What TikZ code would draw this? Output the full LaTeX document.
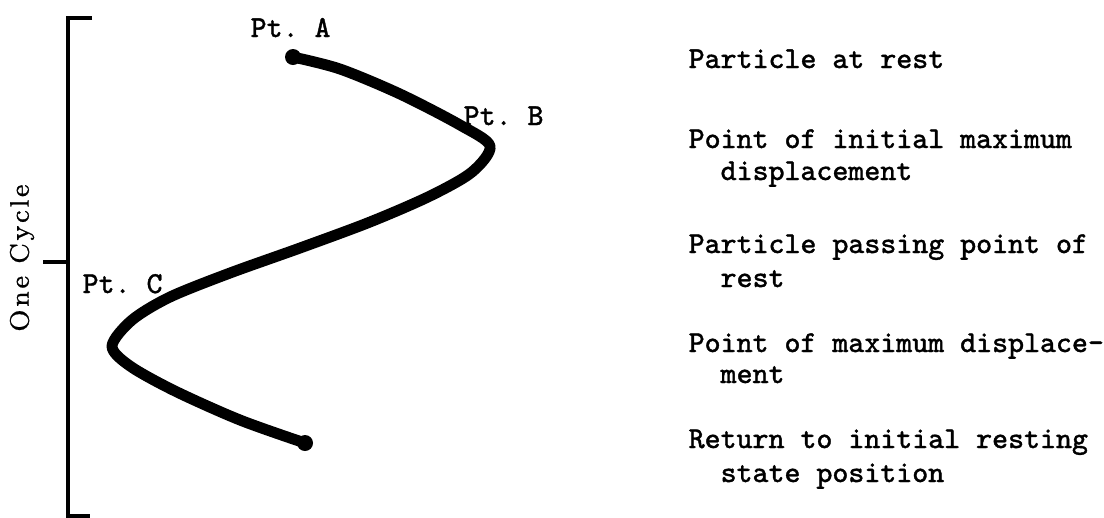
\documentclass[tikz,border=0pt]{standalone}
\usepackage{fontspec}
\setmonofont[AutoFakeBold=1.2]{Latin Modern Mono}
\newfontfamily\spacedroman[LetterSpace=10,FakeBold=0.8]{Latin Modern Roman}
\begin{document}
\begin{tikzpicture}[x=0.01cm,y=-0.01cm,
  txt/.style={font=\ttfamily\bfseries\fontsize{8.65}{10}\selectfont, anchor=base west, inner sep=0pt},
  axisline/.style={line width=1pt},
  wave/.style={line width=3.1pt, line cap=round, line join=round},
  enddot/.style={circle, fill=black, inner sep=0pt, minimum size=16*0.01cm}]
\useasboundingbox (0,0) rectangle (1104,517);
% axis
\coordinate (top) at (68,18);
\coordinate (toptick) at (92,18);
\coordinate (mid) at (68,262);
\coordinate (midtick) at (43,262);
\coordinate (bot) at (68,516);
\coordinate (bottick) at (90,516);
\draw[axisline] (toptick) -- (top) -- (bot) -- (bottick);
\draw[axisline] (midtick) -- (mid);
\node[rotate=90, inner sep=0pt, font=\spacedroman\fontsize{7.6}{9}\selectfont] (cyc) at (22,258) {One Cycle};
% wave
\coordinate (A) at (293,57);
\coordinate (B) at (490,146);
\coordinate (C) at (112,346);
\coordinate (E) at (305,443);
\draw[wave] plot[smooth, tension=0.5] coordinates {(293,57) (340,69) (400,94) (460,125) (490,146) (472,172) (430,196) (370,222) (300,248) (230,273) (170,297) (132,320) (112,346) (130,366) (175,391) (240,420) (305,443)};
\node[enddot] (dotA) at (A) {};
\node[enddot] (dotE) at (E) {};
% point labels
\node[txt] (ptA) at (250,37) {Pt. A};
\node[txt] (ptB) at (463,125) {Pt. B};
\node[txt] (ptC) at (82,293) {Pt. C};
% descriptions
\node[txt] (d1) at (688,68) {Particle at rest};
\node[txt] (d2a) at (688,148) {Point of initial maximum};
\node[txt] (d2b) at (688,180) {\phantom{xx}displacement};
\node[txt] (d3a) at (688,253) {Particle passing point of};
\node[txt] (d3b) at (688,287) {\phantom{xx}rest};
\node[txt] (d4a) at (688,352) {Point of maximum displace-};
\node[txt] (d4b) at (688,383) {\phantom{xx}ment};
\node[txt] (d5a) at (688,448) {Return to initial resting};
\node[txt] (d5b) at (688,482) {\phantom{xx}state position};
\end{tikzpicture}
\end{document}
